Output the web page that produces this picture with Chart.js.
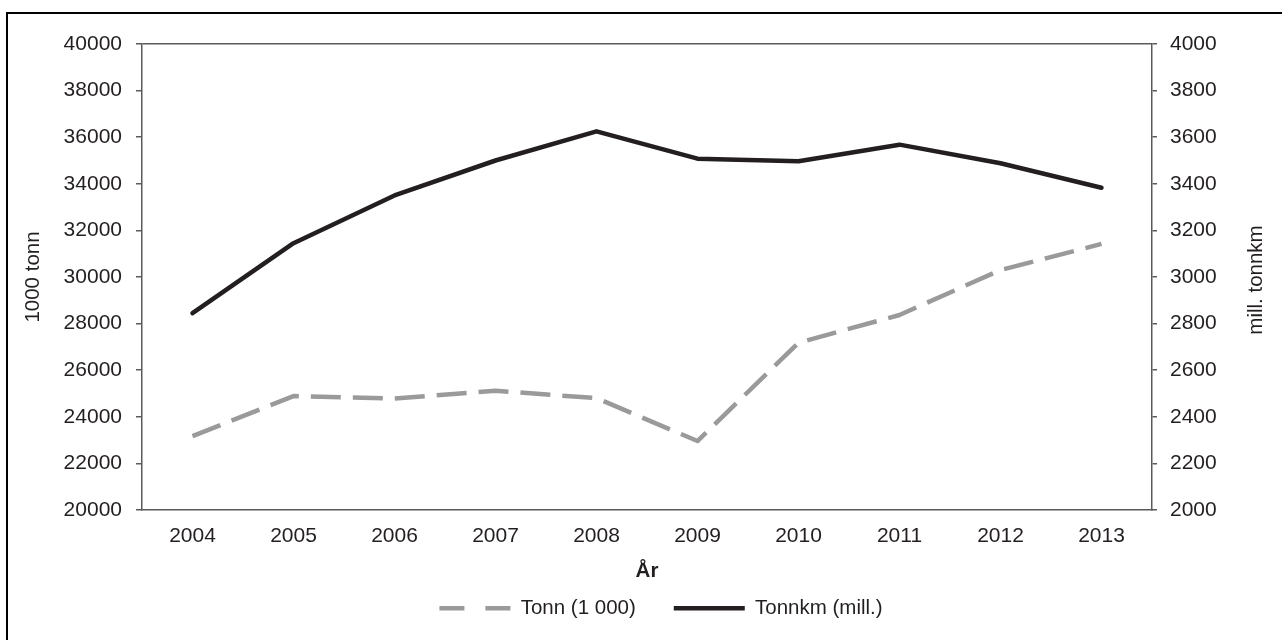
<!DOCTYPE html>
<html>
<head>
<meta charset="utf-8">
<script src="https://cdn.jsdelivr.net/npm/chart.js@4/dist/chart.umd.min.js"></script>
<style>
  html, body { margin: 0; padding: 0; background: #fff; overflow: hidden; }
  #wrap { position: relative; width: 1282px; height: 640px; }
  #frame { position: absolute; left: 6px; top: 12px; width: 2000px; height: 2000px;
           border-left: 2px solid #000; border-top: 2px solid #000; pointer-events: none; }
  canvas { position: absolute; left: 0; top: 0; }
</style>
</head>
<body>
<div id="wrap">
  <canvas id="c" width="1282" height="640"></canvas>
  <div id="frame"></div>
</div>
<script>
const years = ['2004','2005','2006','2007','2008','2009','2010','2011','2012','2013'];
const tonn = [23170, 24890, 24780, 25120, 24800, 22960, 27180, 28370, 30300, 31420];
const tonnkm = [2845, 3145, 3350, 3500, 3625, 3508, 3497, 3568, 3488, 3383];
const leftTitle = '1000 tonn';
const rightTitle = 'mill. tonnkm';
const xTitle = 'År';
const labelTonn = 'Tonn (1 000)';
const labelTonnkm = 'Tonnkm (mill.)';

const FONT = "'Liberation Sans', Arial, sans-serif";
const TXT = '#231f20';
const AX = '#5a5a5a';

const rightTitlePlugin = {
  id: 'rightTitle',
  afterDraw(chart) {
    const s = chart.scales.y1;
    const ca = chart.chartArea;
    const ctx = chart.ctx;
    ctx.save();
    ctx.translate(s.right - 26, (ca.top + ca.bottom) / 2 + 3);
    ctx.rotate(-Math.PI / 2);
    ctx.font = "20.5px " + FONT;
    ctx.fillStyle = TXT;
    ctx.textAlign = 'center';
    ctx.textBaseline = 'middle';
    ctx.fillText(rightTitle, 0, 0);
    ctx.restore();
  }
};

new Chart(document.getElementById('c'), {
  type: 'line',
  data: {
    labels: years,
    datasets: [
      {
        label: labelTonn,
        data: tonn,
        yAxisID: 'y',
        borderColor: '#9a9a9a',
        backgroundColor: '#9a9a9a',
        borderWidth: 4.5,
        borderDash: [30, 12],
        borderCapStyle: 'butt',
        borderJoinStyle: 'round',
        pointRadius: 0,
        tension: 0,
        fill: false
      },
      {
        label: labelTonnkm,
        data: tonnkm,
        yAxisID: 'y1',
        borderColor: '#231f20',
        backgroundColor: '#231f20',
        borderWidth: 4.5,
        borderCapStyle: 'round',
        borderJoinStyle: 'round',
        pointRadius: 0,
        tension: 0,
        fill: false
      }
    ]
  },
  options: {
    responsive: false,
    animation: false,
    devicePixelRatio: 1,
    layout: { padding: { left: 40, right: 0, top: 44, bottom: 11.5 } },
    plugins: {
      tooltip: { enabled: false },
      legend: {
        position: 'bottom',
        labels: {
          usePointStyle: true,
          pointStyle: 'line',
          pointStyleWidth: 71,
          padding: 38,
          color: TXT,
          font: { family: FONT, size: 20.5 },
          generateLabels(chart) {
            const items = Chart.defaults.plugins.legend.labels.generateLabels(chart);
            items.forEach(it => {
              if (it.datasetIndex === 0) it.lineDash = [25, 21];
              it.lineCap = 'butt';
            });
            return items;
          }
        }
      }
    },
    scales: {
      x: {
        offset: true,
        grid: { display: false, drawTicks: false },
        border: { display: true, color: AX, width: 1.5 },
        ticks: { color: TXT, font: { family: FONT, size: 21 }, padding: 14, maxRotation: 0 },
        title: {
          display: true, text: xTitle, color: TXT,
          font: { family: FONT, size: 20.5, weight: 'bold' },
          padding: { top: 0, bottom: -24 }
        },
        afterFit(s) { s.height = 50; }
      },
      y: {
        position: 'left',
        min: 20000, max: 40000,
        ticks: { stepSize: 2000, color: TXT, font: { family: FONT, size: 21 }, padding: 14,
                 callback: v => String(v) },
        grid: {
          drawOnChartArea: true,
          drawTicks: true,
          tickLength: 6,
          color: c => (c.tick && c.tick.value === 40000) ? AX : 'rgba(0,0,0,0)',
          tickColor: AX,
          lineWidth: 1.5
        },
        border: { display: true, color: AX, width: 1.5 },
        title: {
          display: true, text: leftTitle, color: TXT,
          font: { family: FONT, size: 20.5 },
          padding: { top: -19, bottom: 0 }
        },
        afterFit(s) { s.width = 102; }
      },
      y1: {
        position: 'right',
        min: 2000, max: 4000,
        ticks: { stepSize: 200, color: TXT, font: { family: FONT, size: 21 }, padding: 13,
                 callback: v => String(v) },
        grid: { drawOnChartArea: false, drawTicks: true, tickLength: 5, color: AX, lineWidth: 1.5 },
        border: { display: true, color: AX, width: 1.5 },
        afterFit(s) { s.width = 130; }
      }
    }
  },
  plugins: [rightTitlePlugin]
});
</script>
</body>
</html>
